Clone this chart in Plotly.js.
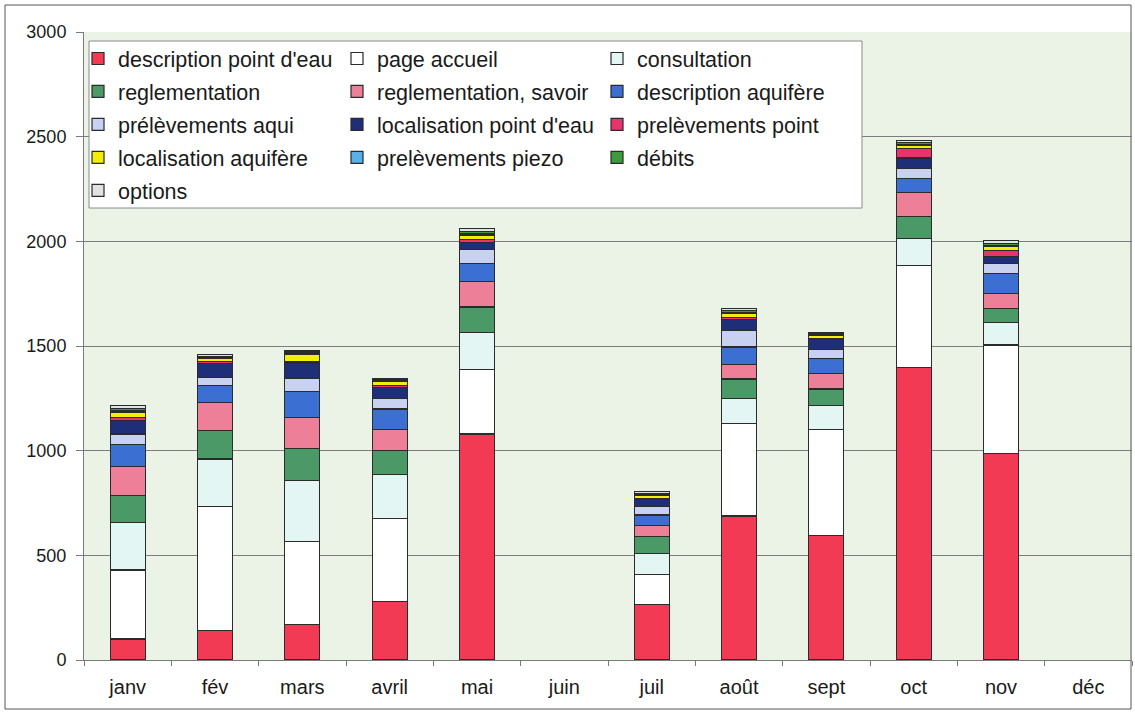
<!DOCTYPE html>
<html>
<head>
<meta charset="utf-8">
<script src="https://cdn.plot.ly/plotly-3.0.1.min.js"></script>
<style>html,body{margin:0;padding:0;background:#fff;}#chart{width:1135px;height:713px;}</style>
</head>
<body>
<div id="chart"></div>
<script>
const months = ['janv','fév','mars','avril','mai','juin','juil','août','sept','oct','nov','déc'];

const descriptionPointEau   = [100, 140, 170, 280, 1080, null, 265, 688, 594, 1398, 987, null];
const pageAccueil           = [330, 595, 395, 395, 306, null, 145, 443, 509, 488, 518, null];
const consultation          = [225, 225, 293, 212, 180, null, 97, 117, 113, 127, 107, null];
const reglementation        = [130, 138, 153, 112, 120, null, 82, 94, 79, 105, 69, null];
const reglementationSavoir  = [140, 131, 146, 104, 122, null, 53, 68, 72, 114, 71, null];
const descriptionAquifere   = [105, 84, 124, 96, 85, null, 51, 85, 72, 67, 93, null];
const prelevementsAqui      = [50, 36, 65, 51, 67, null, 40, 79, 46, 48, 50, null];
const localisationPointEau  = [65, 68, 70, 52, 35, null, 35, 51, 45, 51, 33, null];
const prelevementsPoint     = [12, 8, 8, 8, 15, null, 5, 10, 5, 44, 29, null];
const localisationAquifere  = [28, 15, 34, 22, 20, null, 12, 20, 14, 17, 17, null];
const prelevementsPiezo     = [8, 5, 5, 4, 8, null, 3, 5, 3, 5, 6, null];
const debits                = [10, 6, 8, 4, 10, null, 6, 8, 5, 8, 10, null];
const options               = [12, 10, 9, 6, 14, null, 10, 11, 8, 8, 13, null];

const yTicks = [0, 500, 1000, 1500, 2000, 2500, 3000];

const seriesDefs = [
  {name: "description point d'eau", y: descriptionPointEau, color: '#f23a55', legend: 'legend'},
  {name: 'page accueil', y: pageAccueil, color: '#ffffff', legend: 'legend2'},
  {name: 'consultation', y: consultation, color: '#e4f6f3', legend: 'legend3'},
  {name: 'reglementation', y: reglementation, color: '#4c9968', legend: 'legend'},
  {name: 'reglementation, savoir', y: reglementationSavoir, color: '#ee7f99', legend: 'legend2'},
  {name: 'description aquifère', y: descriptionAquifere, color: '#3b6fd1', legend: 'legend3'},
  {name: 'prélèvements aqui', y: prelevementsAqui, color: '#c9d1f1', legend: 'legend'},
  {name: "localisation point d'eau", y: localisationPointEau, color: '#1f2e78', legend: 'legend2'},
  {name: 'prelèvements point', y: prelevementsPoint, color: '#e8336f', legend: 'legend3'},
  {name: 'localisation aquifère', y: localisationAquifere, color: '#f2ee0a', legend: 'legend'},
  {name: 'prelèvements piezo', y: prelevementsPiezo, color: '#5cb0ea', legend: 'legend2'},
  {name: 'débits', y: debits, color: '#3d9a3d', legend: 'legend3'},
  {name: 'options', y: options, color: '#e2e2e2', legend: 'legend'}
];

const traces = seriesDefs.map((s, i) => ({
  type: 'bar',
  name: s.name,
  x: months,
  y: s.y,
  legend: s.legend,
  legendgroup: 'g' + i,
  marker: {color: s.color, line: {color: '#2b2b2b', width: 1.2}},
  hoverinfo: 'x+y+name'
}));

const W = 1135, H = 713;
const mL = 84, mR = 3, mT = 32, mB = 53;
const pw = W - mL - mR, ph = H - mT - mB;
const px = v => (v - mL) / pw;
const py = v => (H - mB - v) / ph;

const legendFont = {family: 'Liberation Sans, Arial, sans-serif', size: 21.5, color: '#1a1a1a'};
const legendCommon = {
  bgcolor: 'rgba(0,0,0,0)', borderwidth: 0, font: legendFont,
  xref: 'paper', yref: 'paper', xanchor: 'left', yanchor: 'top',
  orientation: 'v', traceorder: 'grouped', tracegroupgap: 2, itemclick: false
};

const layout = {
  width: W, height: H,
  margin: {l: mL, r: mR, t: mT, b: mB},
  paper_bgcolor: '#ffffff',
  plot_bgcolor: '#eaf3e6',
  barmode: 'stack',
  bargap: 0.6,
  font: {family: 'Liberation Sans, Arial, sans-serif', size: 18, color: '#1a1a1a'},
  xaxis: {
    type: 'category',
    categoryorder: 'array', categoryarray: months,
    showgrid: false, zeroline: false,
    showline: true, linecolor: '#7a7a7a', linewidth: 1,
    ticks: 'outside', tickson: 'boundaries', ticklen: 5, tickcolor: '#7a7a7a',
    ticklabelstandoff: 9,
    tickfont: {size: 20, color: '#1a1a1a'}
  },
  yaxis: {
    range: [0, 3000], tickvals: yTicks, ticktext: yTicks.map(String),
    showgrid: true, gridcolor: '#7d7d7d', gridwidth: 1,
    zeroline: false, showline: true, linecolor: '#7a7a7a', linewidth: 1,
    ticks: 'outside', ticklen: 7, tickcolor: '#7a7a7a', ticklabelstandoff: 6,
    tickfont: {size: 18, color: '#1a1a1a'}
  },
  showlegend: true,
  legend:  Object.assign({}, legendCommon, {x: px(78), y: py(38)}),
  legend2: Object.assign({}, legendCommon, {x: px(337), y: py(38)}),
  legend3: Object.assign({}, legendCommon, {x: px(597), y: py(38)}),
  shapes: [
    {type: 'rect', xref: 'paper', yref: 'paper', layer: 'above',
     x0: px(89), x1: px(862), y0: py(208), y1: py(41),
     fillcolor: '#ffffff', line: {color: '#8a8a8a', width: 1}},
    {type: 'rect', xref: 'paper', yref: 'paper', layer: 'below',
     x0: px(5), x1: px(1131), y0: py(709), y1: py(5),
     fillcolor: 'rgba(0,0,0,0)', line: {color: '#555555', width: 1}}
  ]
};

Plotly.newPlot('chart', traces, layout, {displayModeBar: false, staticPlot: true});
</script>
</body>
</html>
